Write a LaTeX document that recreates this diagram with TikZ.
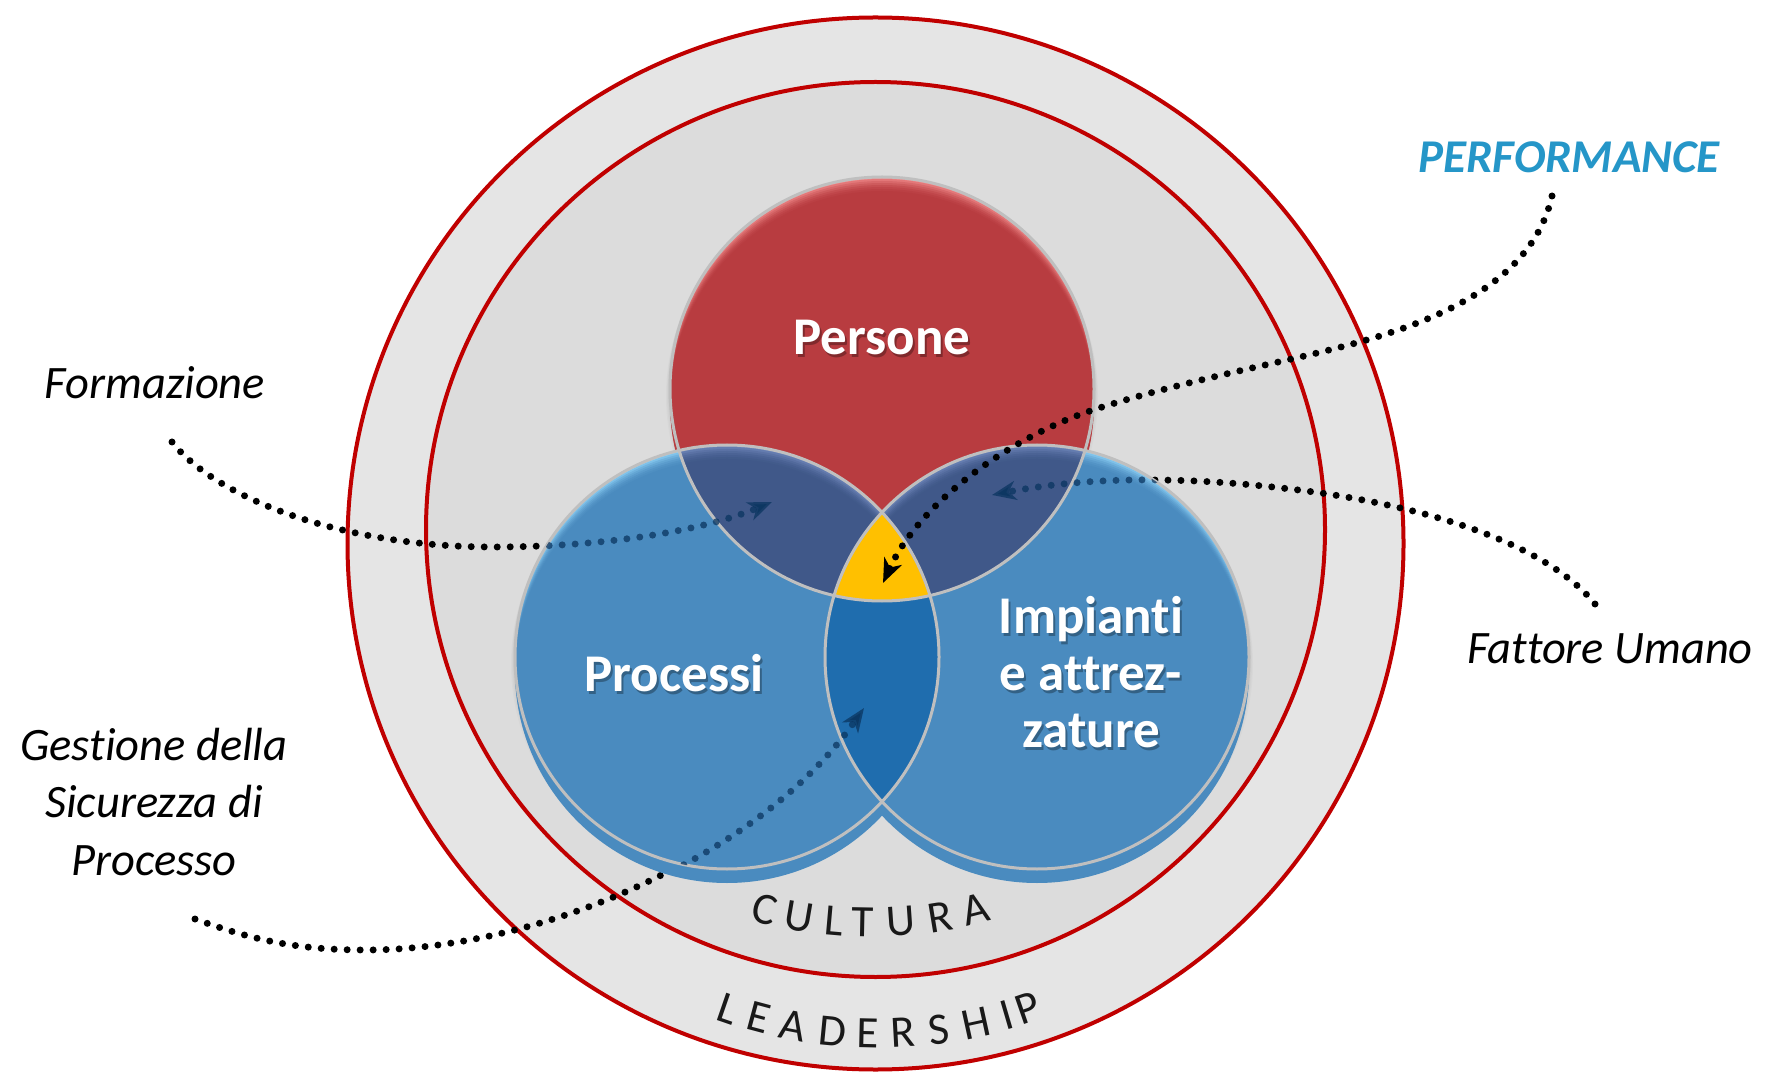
\documentclass[tikz,border=0pt]{standalone}
\usepackage{fontspec}
\setmainfont{Carlito}[Ligatures={NoCommon,NoRequired,NoContextual}]
\usetikzlibrary{arrows.meta}
\definecolor{ringA}{HTML}{E5E5E5}
\definecolor{ringB}{HTML}{DCDCDC}
\definecolor{ringred}{HTML}{C00000}
\definecolor{perRed}{HTML}{B83C40}
\definecolor{perLight}{HTML}{F28C8C}
\definecolor{bluBase}{HTML}{4A8BBF}
\definecolor{bluLight}{HTML}{8FD3F7}
\definecolor{slBase}{HTML}{405889}
\definecolor{slLight}{HTML}{7088BC}
\definecolor{deepBlue}{HTML}{1F6DAE}
\definecolor{gold}{HTML}{FFC000}
\definecolor{rimGray}{HTML}{BFBFBF}
\definecolor{perfBlue}{HTML}{2596C8}
\definecolor{dotNavy}{HTML}{0A3560}
\newcommand\glossdisc[4]{%
  \fill[#3] (#1) circle (#2);
  \foreach \dd/\pp in {2/25,4/45,6/62,8/76,10/87,12/95,14/100}{\fill[#4!\pp!#3] ([yshift=-\dd]#1) circle (#2);}%
}
\tikzset{
  dotline/.style={line width=7pt, dash pattern=on 0pt off 13pt, line cap=round},
  tipS/.style={-{Stealth[length=24pt,width=19pt,inset=7pt]}},
  circlbl/.style={anchor=base, inner sep=0pt, text=white, font=\fontsize{53}{60}\selectfont\bfseries},
  circsh/.style={circlbl, text=black, text opacity=0.3},
  sidelbl/.style={anchor=base, inner sep=0pt, text=black, font=\fontsize{46.5}{52}\selectfont\itshape},
  perflbl/.style={anchor=base, inner sep=0pt, text=perfBlue, font=\fontsize{47}{52}\selectfont\bfseries\itshape},
  ringltr/.style={anchor=base, inner sep=0pt, text=black!90, font=\fontsize{45}{50}\selectfont}
}
\begin{document}
\begin{tikzpicture}[x=1pt,y=1pt]
\path[use as bounding box] (0,0) rectangle (1768,1072);
\fill[white] (0,0) rectangle (1768,1072);
\coordinate (O1) at (875.5,528.5);
\coordinate (O2) at (875.5,542.5);
\coordinate (P) at (882,683);
\coordinate (A) at (727,415);
\coordinate (B) at (1037,415);
% rings
\filldraw[fill=ringA, draw=ringred, line width=4pt] (O1) ellipse [x radius=528, y radius=526];
\filldraw[fill=ringB, draw=ringred, line width=4pt] (O2) ellipse [x radius=449.5, y radius=447.5];
% soft shadows
\foreach \c in {P,A,B}{
  \foreach \s/\r in {7/216,5/215,3/214,1/213}
    \fill[black, opacity=0.02] ([yshift=-\s]\c) circle (\r);
}
% connector end points
\coordinate (F0) at (172,630); \coordinate (F1) at (772,570);
\coordinate (U0) at (1595,468); \coordinate (U1) at (992,577);
\coordinate (G0) at (195,153); \coordinate (G1) at (864,364);
\coordinate (R0) at (1552,876); \coordinate (R1) at (883,489);
\def\formpath{(F0) .. controls (215,575) and (340,525) .. (493,525) .. controls (600,525) and (700,540) .. (F1)}
\def\fattpath{(U0) .. controls (1545,530) and (1420,568) .. (1290,583) .. controls (1150,600) and (1060,590) .. (U1)}
\def\gestpath{(G0) .. controls (245,135) and (290,122) .. (365,122) .. controls (540,122) and (760,215) .. (G1)}
\def\perfpath{(R0) .. controls (1528,770) and (1390,736) .. (1296,714) .. controls (1225,698) and (1150,681) .. (1090,661) .. controls (1010,634) and (920,570) .. (R1)}
% dotted connectors under the circles
\draw[dotline] \formpath;
\draw[dotline] \fattpath;
\draw[dotline] \gestpath;
% circles
\glossdisc{P}{212}{perLight}{perRed}
\glossdisc{A}{212}{bluLight}{bluBase}
\glossdisc{B}{212}{bluLight}{bluBase}
\begin{scope}\clip (P) circle (212); \glossdisc{A}{212}{slLight}{slBase}\end{scope}
\begin{scope}\clip (P) circle (212); \glossdisc{B}{212}{slLight}{slBase}\end{scope}
\begin{scope}\clip (A) circle (212); \fill[deepBlue] (B) circle (212);\end{scope}
\begin{scope}\clip (P) circle (212); \clip (A) circle (212); \fill[gold] (B) circle (212);\end{scope}
\draw[rimGray, line width=3pt] (P) circle (212) (A) circle (212) (B) circle (212);
% connectors seen through the circles
\begin{scope}
\clip (P) circle (212) (A) circle (212) (B) circle (212);
\draw[dotline, dotNavy, opacity=0.75, tipS] \formpath;
\draw[dotline, dotNavy, opacity=0.75, tipS] \fattpath;
\draw[dotline, dotNavy, opacity=0.75, tipS] \gestpath;
\end{scope}
% performance connector on top
\draw[dotline, tipS] \perfpath;
% circle labels
\node[circsh] (pers-sh) at (884,714) {Persone};
\node[circlbl] (pers) at (882,717) {Persone};
\node[circsh] (proc-sh) at (676,378) {Processi};
\node[circlbl] (proc) at (674,381) {Processi};
\node[circsh] (imp1-sh) at (1093,436) {Impianti};
\node[circlbl] (imp1) at (1091,439) {Impianti};
\node[circsh] (imp2-sh) at (1093,379) {e attrez-};
\node[circlbl] (imp2) at (1091,382) {e attrez-};
\node[circsh] (imp3-sh) at (1093,322) {zature};
\node[circlbl] (imp3) at (1091,325) {zature};
% side labels
\node[sidelbl] (form) at (155,673) {Formazione};
\node[perflbl] (perf) at (1569,899) {PERFORMANCE};
\node[sidelbl] (fatt) at (1610,409) {Fattore Umano};
\node[sidelbl] (gest1) at (154,312) {Gestione della};
\node[sidelbl] (gest2) at (154,255) {Sicurezza di};
\node[sidelbl] (gest3) at (154,197) {Processo};
% ring texts
\coordinate (CC) at (871,575);
\foreach \ch/\a [count=\i] in {C/255.6,U/260.3,L/265.0,T/268.9,U/274.0,R/279.4,A/284.2}
  \node[ringltr, rotate=\a+90] (cul\i) at ([shift={(\a:440)}]CC) {\ch};
\coordinate (LC) at (878,499);
\foreach \ch/\a [count=\i] in {L/251.0,E/255.0,A/259.3,D/264.4,E/268.7,R/273.1,S/277.6,H/282.3,I/286.3,P/289.0}
  \node[ringltr, rotate=\a+90] (lead\i) at ([shift={(\a:475)}]LC) {\ch};
\end{tikzpicture}
\end{document}
